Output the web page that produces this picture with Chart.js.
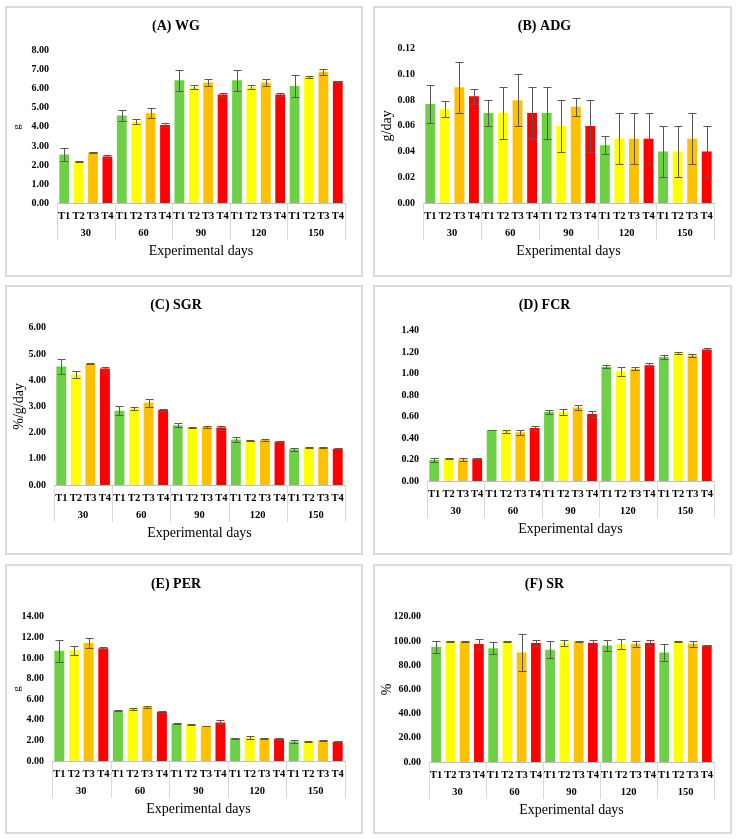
<!DOCTYPE html>
<html>
<head>
<meta charset="utf-8">
<script src="https://cdn.jsdelivr.net/npm/chart.js@4.4.1/dist/chart.umd.min.js"></script>
<style>
  body { margin: 0; background: #fff; width: 737px; height: 839px; position: relative; overflow: hidden; }
  .panel { position: absolute; box-sizing: border-box; border: 2px solid #dcdcdc; background: #fff; }
  .panel canvas { display: block; }
</style>
</head>
<body>
<div class="panel" style="left:5px;top:6px;width:358px;height:271px"><canvas id="cA" width="354" height="267"></canvas></div>
<div class="panel" style="left:373px;top:6px;width:359px;height:271px"><canvas id="cB" width="355" height="267"></canvas></div>
<div class="panel" style="left:5px;top:285px;width:358px;height:270px"><canvas id="cC" width="354" height="266"></canvas></div>
<div class="panel" style="left:373px;top:285px;width:359px;height:270px"><canvas id="cD" width="355" height="266"></canvas></div>
<div class="panel" style="left:5px;top:564px;width:358px;height:270px"><canvas id="cE" width="354" height="266"></canvas></div>
<div class="panel" style="left:373px;top:564px;width:359px;height:270px"><canvas id="cF" width="355" height="266"></canvas></div>

<script>
// treatments repeat inside every sampling day
const treatments = ['T1', 'T2', 'T3', 'T4'];
const days = ['30', '60', '90', '120', '150'];
const barColors = ['#6ed046', '#ffff00', '#ffc000', '#ff0000'];

// (A) WG  - mean and +/- error, order: day30 T1..T4, day60 T1..T4 ...
const wgMean = [2.55, 2.17, 2.65, 2.45, 4.60, 4.27, 4.72, 4.10, 6.45, 6.08, 6.33, 5.70, 6.45, 6.08, 6.33, 5.70, 6.15, 6.62, 6.90, 6.40];
const wgErr  = [0.32, 0.03, 0.02, 0.07, 0.30, 0.12, 0.25, 0.10, 0.55, 0.10, 0.20, 0.07, 0.55, 0.10, 0.20, 0.07, 0.60, 0.07, 0.15, 0.02];

// (B) ADG
const adgMean = [0.077, 0.073, 0.090, 0.083, 0.070, 0.070, 0.080, 0.070, 0.070, 0.060, 0.075, 0.060, 0.045, 0.050, 0.050, 0.050, 0.040, 0.040, 0.050, 0.040];
const adgErr  = [0.015, 0.006, 0.020, 0.006, 0.010, 0.020, 0.020, 0.020, 0.020, 0.020, 0.007, 0.020, 0.007, 0.020, 0.020, 0.020, 0.020, 0.020, 0.020, 0.020];

// (C) SGR
const sgrMean = [4.52, 4.21, 4.62, 4.45, 2.83, 2.92, 3.14, 2.86, 2.28, 2.21, 2.22, 2.19, 1.74, 1.70, 1.73, 1.66, 1.36, 1.43, 1.43, 1.38];
const sgrErr  = [0.30, 0.13, 0.02, 0.07, 0.17, 0.05, 0.16, 0.03, 0.07, 0.02, 0.03, 0.08, 0.08, 0.02, 0.04, 0.01, 0.07, 0.03, 0.02, 0.02];

// (D) FCR
const fcrMean = [0.195, 0.210, 0.200, 0.210, 0.475, 0.465, 0.455, 0.495, 0.645, 0.645, 0.685, 0.625, 1.065, 1.020, 1.045, 1.080, 1.155, 1.190, 1.170, 1.225];
const fcrErr  = [0.020, 0.008, 0.010, 0.008, 0.004, 0.015, 0.025, 0.020, 0.020, 0.030, 0.020, 0.030, 0.015, 0.040, 0.015, 0.020, 0.015, 0.008, 0.015, 0.015];

// (E) PER
const perMean = [10.70, 10.75, 11.45, 10.95, 4.87, 5.05, 5.25, 4.77, 3.62, 3.52, 3.38, 3.75, 2.20, 2.27, 2.20, 2.15, 1.90, 1.92, 1.97, 1.88];
const perErr  = [1.07, 0.45, 0.45, 0.12, 0.05, 0.07, 0.07, 0.08, 0.05, 0.05, 0.03, 0.20, 0.05, 0.12, 0.05, 0.05, 0.12, 0.03, 0.05, 0.05];

// (F) SR
const srMean = [95.3, 99.5, 99.5, 97.5, 94.0, 99.5, 90.5, 98.3, 92.8, 98.3, 99.5, 98.3, 96.2, 97.3, 97.8, 98.3, 90.5, 99.5, 97.8, 96.2];
const srErr  = [4.9, 0.3, 0.3, 4.0, 5.0, 0.3, 15.5, 2.3, 7.0, 2.3, 0.3, 2.3, 4.8, 4.2, 2.5, 2.3, 7.0, 0.2, 2.5, 0.2];

Chart.defaults.font.family = "'Liberation Serif', 'Times New Roman', serif";
Chart.defaults.color = '#000';

const xLabels = days.flatMap(() => treatments);

const errorBars = {
  id: 'errorBars',
  afterDatasetsDraw(chart) {
    const { ctx, scales: { y } } = chart;
    const ds = chart.data.datasets[0];
    const meta = chart.getDatasetMeta(0);
    ctx.save();
    ctx.strokeStyle = '#595959';
    ctx.lineWidth = 1;
    meta.data.forEach((bar, i) => {
      const e = ds.errors[i];
      if (!e) return;
      const top = Math.round(y.getPixelForValue(ds.data[i] + e)) + 0.5;
      const bot = Math.round(y.getPixelForValue(ds.data[i] - e)) + 0.5;
      const x = Math.round(bar.x) + 0.5;
      ctx.beginPath();
      ctx.moveTo(x, top); ctx.lineTo(x, bot);
      ctx.moveTo(x - 4, top); ctx.lineTo(x + 4, top);
      ctx.moveTo(x - 4, bot); ctx.lineTo(x + 4, bot);
      ctx.stroke();
    });
    ctx.restore();
  }
};

// thin lines that split the day groups under the axis
const groupLines = {
  id: 'groupLines',
  afterDraw(chart) {
    const { ctx, chartArea, scales: { x, x2 } } = chart;
    const half = (x.getPixelForValue(1) - x.getPixelForValue(0)) / 2;
    const end = x2.top + 17;
    ctx.save();
    ctx.strokeStyle = '#d9d9d9';
    ctx.lineWidth = 1;
    for (let g = 0; g <= days.length; g++) {
      const px = Math.round(x.getPixelForValue(g * treatments.length) - half) + 0.5;
      ctx.beginPath();
      ctx.moveTo(px, chartArea.bottom);
      ctx.lineTo(px, end);
      ctx.stroke();
    }
    ctx.restore();
  }
};

function makeChart(id, cfg) {
  return new Chart(document.getElementById(id), {
    type: 'bar',
    data: {
      labels: xLabels,
      datasets: [{
        data: cfg.mean,
        errors: cfg.err,
        backgroundColor: xLabels.map((_, i) => barColors[i % barColors.length]),
        barPercentage: 0.68,
        categoryPercentage: 1
      }]
    },
    options: {
      responsive: false,
      animation: false,
      layout: { padding: { left: 0, right: 16, top: 0, bottom: cfg.padBottom } },
      plugins: {
        legend: { display: false },
        tooltip: { enabled: false },
        title: {
          display: true,
          text: cfg.title,
          font: { size: 14, weight: 'bold' },
          padding: { top: 10, bottom: cfg.titleGap }
        }
      },
      scales: {
        x: {
          weight: 1,
          grid: { display: false, drawTicks: false },
          border: { color: '#bfbfbf' },
          ticks: { font: { size: 10.5, weight: 'bold' }, padding: 7, maxRotation: 0, autoSkip: false },
          afterFit: s => { s.height = 20; }
        },
        x2: {
          type: 'category',
          labels: days,
          position: 'bottom',
          offset: true,
          weight: 2,
          grid: { display: false, drawTicks: false },
          border: { display: false },
          ticks: { font: { size: 10.5, weight: 'bold' }, padding: 4 },
          title: { display: true, text: 'Experimental days', font: { size: 14 }, padding: { top: 2, bottom: 0 } },
          afterFit: s => { s.height = 37; }
        },
        y: {
          min: 0,
          max: cfg.max,
          ticks: { stepSize: cfg.step, padding: 8, font: { size: 10, weight: 'bold' }, callback: v => v.toFixed(2) },
          grid: { display: false, drawTicks: false },
          border: { display: false },
          title: { display: !!cfg.yTitle, text: cfg.yTitle, font: { size: cfg.yTitleSize }, padding: { top: 4, bottom: 0 } },
          afterFit: s => { s.width = cfg.left; }
        }
      }
    },
    plugins: [errorBars, groupLines]
  });
}

makeChart('cA', { title: '(A) WG', mean: wgMean, err: wgErr, max: 8, step: 1, yTitle: 'g', yTitleSize: 11, left: 50, titleGap: 16, padBottom: 15 });
makeChart('cB', { title: '(B) ADG', mean: adgMean, err: adgErr, max: 0.12, step: 0.02, yTitle: 'g/day', yTitleSize: 14, left: 48, titleGap: 14, padBottom: 15 });
makeChart('cC', { title: '(C) SGR', mean: sgrMean, err: sgrErr, max: 6, step: 1, yTitle: '%/g/day', yTitleSize: 14, left: 47, titleGap: 14, padBottom: 11 });
makeChart('cD', { title: '(D) FCR', mean: fcrMean, err: fcrErr, max: 1.4, step: 0.2, yTitle: '', yTitleSize: 14, left: 52, titleGap: 17, padBottom: 15 });
makeChart('cE', { title: '(E) PER', mean: perMean, err: perErr, max: 14, step: 2, yTitle: 'g', yTitleSize: 11, left: 45, titleGap: 24, padBottom: 14 });
makeChart('cF', { title: '(F) SR', mean: srMean, err: srErr, max: 120, step: 20, yTitle: '%', yTitleSize: 14, left: 54, titleGap: 24, padBottom: 13 });
</script>
</body>
</html>
